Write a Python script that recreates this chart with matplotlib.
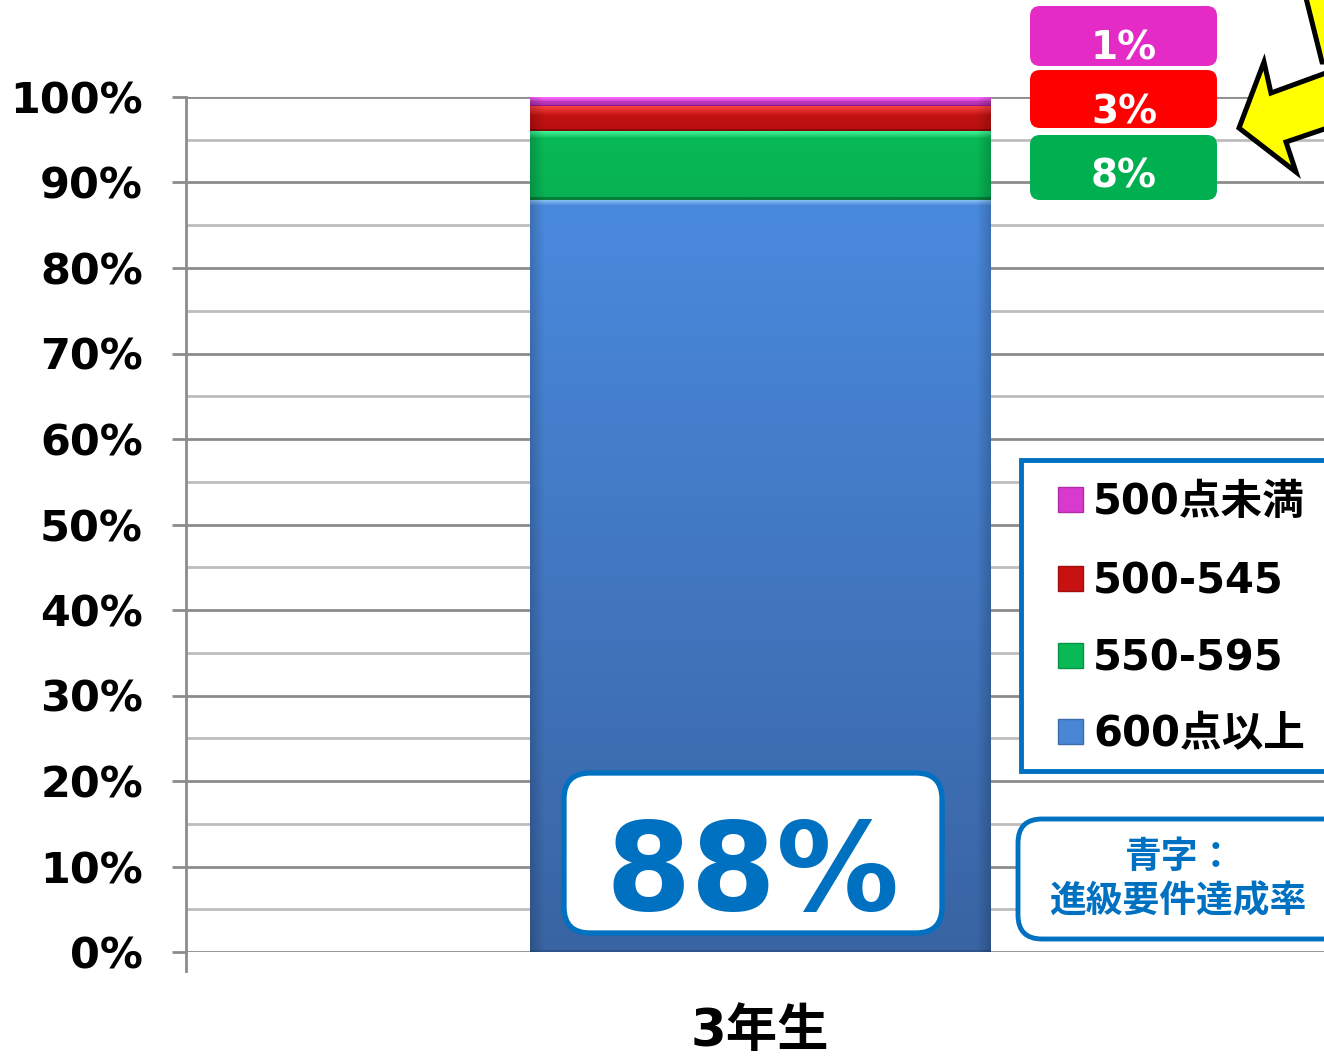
import numpy as np
import matplotlib
matplotlib.use("Agg")
import matplotlib.pyplot as plt
from matplotlib.patches import FancyBboxPatch, Rectangle, Polygon
from matplotlib.lines import Line2D
from matplotlib.transforms import Affine2D, blended_transform_factory
import matplotlib.colors as mcolors

plt.rcParams['font.family'] = ['DejaVu Sans', 'Noto Sans CJK JP']
plt.rcParams['font.weight'] = 'bold'

# ---------------- data ----------------
category = "3年生"
series_labels = ["600点以上", "550-595", "500-545", "500点未満"]
series_values = [88, 8, 3, 1]
series_colors = ["#4a86d6", "#08b955", "#c81212", "#d83ad0"]
box_colors = {"500点未満": "#e42bc5", "500-545": "#ff0000", "550-595": "#00b050"}
yticks = [0, 10, 20, 30, 40, 50, 60, 70, 80, 90, 100]
ytick_labels = [f"{v}%" for v in yticks]
highlight_label = "600点以上"
note_lines = ["青字：", "進級要件達成率"]

W, H, DPI = 1324, 1060, 100
fig = plt.figure(figsize=(W / DPI, H / DPI), dpi=DPI)
px = Affine2D().scale(1, -1).translate(0, H).scale(1 / DPI) + fig.dpi_scale_trans

# axes spans x 186..1334 px, y 97..952 px
ax = fig.add_axes([186 / W, (H - 952) / H, (1334 - 186) / W, (952 - 97) / H])
ax.set_ylim(0, 100)
ax.set_xlim(-1.2478, 1.2478)
for s in ["top", "right", "bottom"]:
    ax.spines[s].set_visible(False)
ax.spines["left"].set_color("#8c8c8c")
ax.spines["left"].set_linewidth(2)
ax.spines["left"].set_zorder(1)

ax.set_yticks(yticks)
ax.set_yticklabels(ytick_labels, fontsize=31, fontweight="bold")
ax.set_yticks(list(range(5, 100, 10)), minor=True)
ax.tick_params(axis="y", which="major", length=10, width=2, color="#8c8c8c", pad=21)
ax.tick_params(axis="y", which="minor", length=0)
ax.grid(axis="y", which="major", color="#8c8c8c", linewidth=2, zorder=0)
ax.grid(axis="y", which="minor", color="#bdbdbd", linewidth=2, zorder=0)
ax.set_axisbelow(True)

ax.set_xticks([0])
ax.set_xticklabels([category], fontsize=37, fontweight="bold")
ax.tick_params(axis="x", length=0, pad=68)
for t in ax.get_xticklabels():
    t.set_verticalalignment("baseline")

# extended left category tick below the axis
ax.add_line(Line2D([0, 0], [0, -2.2],
                   transform=blended_transform_factory(ax.transAxes, ax.transData),
                   color="#8c8c8c", lw=2, clip_on=False, zorder=1))


def hexrgb(c):
    return np.array(mcolors.to_rgb(c))


styles = {
    "600点以上": dict(top="#4a8ade", bottom="#3964a3", hl="#8ec6f6", hl_px=6, dk="#2f5590", dk_px=2),
    "550-595": dict(top="#08ba56", bottom="#07b252", hl="#3ef298", hl_px=7, dk="#04803a", dk_px=3),
    "500-545": dict(top="#c81414", bottom="#b80f0f", hl="#ff4444", hl_px=10, dk="#8a0808", dk_px=2),
    "500点未満": dict(top="#d84ad4", bottom="#a82aa8", hl="#ff66ff", hl_px=4, dk="#901890", dk_px=1),
}

bottom = 0
for lab, val, col in zip(series_labels, series_values, series_colors):
    bars = ax.bar([0], [val], bottom=bottom, width=1.0, color=col, linewidth=0, zorder=2)
    rect = bars.patches[0]
    x0, y0 = rect.get_x(), rect.get_y()
    w, h = rect.get_width(), rect.get_height()
    hpx = max(int(round(h * 8.55)), 3)
    wpx = 460
    st = styles[lab]
    t = np.linspace(0, 1, hpx)[:, None]
    img = hexrgb(st["top"]) * (1 - t) + hexrgb(st["bottom"]) * t
    img = np.repeat(img[:, None, :], wpx, axis=1)
    k = min(st["hl_px"], hpx - 1)
    for i in range(k):
        a = 1 - i / k
        img[i] = img[i] * (1 - a) + hexrgb(st["hl"]) * a
    for i in range(st["dk_px"]):
        img[hpx - 1 - i] = hexrgb(st["dk"])
    # side shading
    edge = 14
    for j in range(edge):
        f = 0.82 + 0.18 * j / edge
        img[:, j] *= f
        img[:, wpx - 1 - j] *= f
    im = ax.imshow(np.clip(img, 0, 1), extent=(x0, x0 + w, y0, y0 + h), origin="upper",
                   aspect="auto", zorder=3, interpolation="bilinear")
    im.set_clip_path(rect)
    bottom += val
ax.set_xlim(-1.2478, 1.2478)
ax.set_ylim(0, 100)

# ---------------- 88% box ----------------
hv = series_values[series_labels.index(highlight_label)]
fig.add_artist(FancyBboxPatch((564, 773), 378, 160, boxstyle="round,pad=0,rounding_size=26",
                              transform=px, facecolor="white", edgecolor="#0070c0", lw=3.8, zorder=5))
fig.text(753, 910, f"{hv}%", transform=px, ha="center", va="baseline", fontsize=88.5,
         fontweight="bold", color="#0070c0", zorder=6)

# ---------------- value boxes ----------------
box_pos = {"500点未満": (6, 66, 60), "500-545": (70, 128, 123), "550-595": (135, 200, 187)}
for lab in ["500点未満", "500-545", "550-595"]:
    t0, t1, base = box_pos[lab]
    val = series_values[series_labels.index(lab)]
    fig.add_artist(FancyBboxPatch((1030, t0), 187, t1 - t0, boxstyle="round,pad=0,rounding_size=10",
                                  transform=px, facecolor=box_colors[lab], edgecolor="none", zorder=5))
    fig.text(1124, base, f"{val}%", transform=px, ha="center", va="baseline", fontsize=28,
             fontweight="bold", color="white", zorder=6)

# ---------------- legend (manual) ----------------
fig.add_artist(Rectangle((1021, 460), 360, 311, transform=px, facecolor="white",
                         edgecolor="#0070c0", lw=3.5, zorder=5))
leg_y = [499, 578, 655, 731]
for yy, lab in zip(leg_y, series_labels[::-1]):
    col = series_colors[series_labels.index(lab)]
    fig.add_artist(Rectangle((1058, yy - 12), 25, 25, transform=px, facecolor=col,
                             edgecolor=mcolors.to_hex(hexrgb(col) * 0.8), lw=1, zorder=6))
    fig.text(1093, yy + 15.5, lab, transform=px, ha="left", va="baseline", fontsize=30,
             fontweight="bold", color="black", zorder=7)

# ---------------- note box ----------------
fig.add_artist(FancyBboxPatch((1018, 819), 360, 120, boxstyle="round,pad=0,rounding_size=24",
                              transform=px, facecolor="white", edgecolor="#0070c0", lw=3.5, zorder=5))
fig.text(1180, 857, note_lines[0], transform=px, ha="center", va="center", fontsize=26.5,
         fontweight="bold", color="#0070c0", zorder=6)
fig.text(1178, 902, note_lines[1], transform=px, ha="center", va="center", fontsize=26.5,
         fontweight="bold", color="#0070c0", zorder=6)

# ---------------- yellow arrow ----------------
arrow = [(1239, 128), (1264, 62), (1271, 93), (1345, 66), (1345, 122), (1286, 142), (1296, 172)]
fig.add_artist(Polygon(arrow, closed=True, transform=px, facecolor="#ffff00",
                       edgecolor="black", lw=3.6, joinstyle="miter", zorder=5))
fig.add_artist(Polygon([(1304, -10), (1322, 62), (1345, 62), (1345, -10)], closed=True, transform=px,
                       facecolor="#ffff00", edgecolor="black", lw=3.6, joinstyle="miter", zorder=5))

fig.savefig("out.png", dpi=DPI)
